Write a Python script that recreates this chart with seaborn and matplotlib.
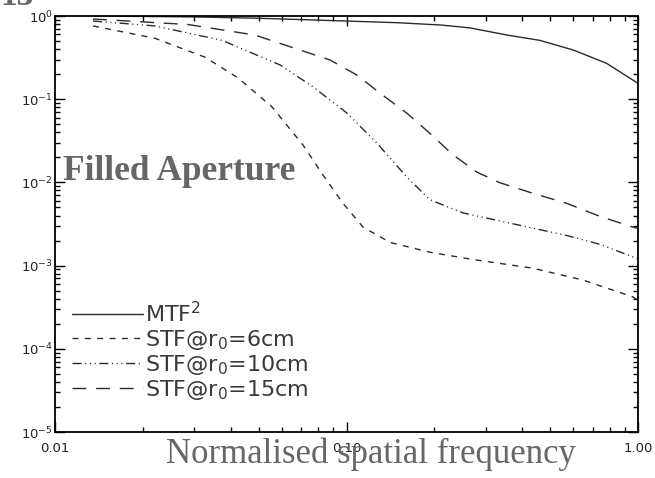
import numpy as np
import pandas as pd
import seaborn as sns
import matplotlib
matplotlib.use("Agg")
import matplotlib.pyplot as plt
from matplotlib.ticker import FixedLocator, FixedFormatter, LogLocator, NullFormatter

# ---- data ----
mtf_x = [0.0137, 0.03, 0.05, 0.1, 0.15, 0.21, 0.265, 0.356, 0.46, 0.6, 0.78, 1.0]
mtf_y = [1.0, 0.975, 0.94, 0.87, 0.83, 0.78, 0.72, 0.59, 0.51, 0.39, 0.27, 0.155]

stf6_x = [0.0135, 0.022, 0.0327, 0.0425, 0.0555, 0.0615, 0.071, 0.083, 0.0973,
          0.114, 0.141, 0.193, 0.265, 0.436, 0.648, 0.962, 1.0]
stf6_y = [0.76, 0.54, 0.32, 0.18, 0.081, 0.052, 0.028, 0.0123, 0.0056,
          0.0029, 0.0019, 0.00145, 0.00120, 0.00093, 0.00067, 0.00042, 0.00038]

stf10_x = [0.0135, 0.022, 0.0374, 0.0592, 0.0767, 0.1004, 0.127, 0.161, 0.193,
           0.251, 0.385, 0.570, 0.741, 0.962, 1.0]
stf10_y = [0.87, 0.76, 0.51, 0.258, 0.141, 0.068, 0.0298, 0.0116, 0.0062,
           0.0043, 0.0031, 0.0023, 0.0018, 0.00127, 0.0012]

stf15_x = [0.0135, 0.0286, 0.0485, 0.0878, 0.1086, 0.130, 0.161, 0.193, 0.232,
           0.280, 0.336, 0.436, 0.570, 0.741, 0.962, 1.0]
stf15_y = [0.92, 0.79, 0.59, 0.296, 0.195, 0.119, 0.068, 0.039, 0.0214,
           0.0133, 0.0099, 0.0074, 0.0056, 0.0039, 0.0029, 0.0028]

series_labels = ["MTF$^2$", "STF@r$_0$=6cm", "STF@r$_0$=10cm", "STF@r$_0$=15cm"]
xtick_values = [0.01, 0.1, 1.0]
xtick_labels = ["0.01", "0.10", "1.00"]
ytick_values = [1e-5, 1e-4, 1e-3, 1e-2, 1e-1, 1e0]

xlabel_text = "Normalised spatial frequency"
annotation_text = "Filled Aperture"
page_text = "13"

# ---- styling ----
sns.set_style("ticks")
plt.rcParams["font.family"] = ["DejaVu Sans"]
plt.rcParams["mathtext.fontset"] = "dejavusans"

fig = plt.figure(figsize=(6.55, 4.78), dpi=100)
ax = fig.add_axes([55 / 655, 46 / 478, 583 / 655, 416 / 478])

line_color = "#2b2b2b"
styles = [
    (mtf_x, mtf_y, "-"),
    (stf6_x, stf6_y, (0, (4.3, 4.6))),
    (stf10_x, stf10_y, (0, (6.5, 2.6, 0.8, 2.6, 0.8, 2.6, 0.8, 2.6))),
    (stf15_x, stf15_y, (0, (10, 7))),
]
for (xs, ys, ls), lab in zip(styles, series_labels):
    df = pd.DataFrame({"x": xs, "y": ys})
    sns.lineplot(data=df, x="x", y="y", ax=ax, color=line_color, linewidth=1.0,
                 linestyle=ls, label=lab, errorbar=None, sort=False)

ax.set_xscale("log")
ax.set_yscale("log")
ax.set_xlim(0.01, 1.0)
ax.set_ylim(1e-5, 1.0)

ax.xaxis.set_major_locator(FixedLocator(xtick_values))
ax.xaxis.set_major_formatter(FixedFormatter(xtick_labels))
ax.xaxis.set_minor_locator(LogLocator(base=10, subs=np.arange(2, 10)))
ax.xaxis.set_minor_formatter(NullFormatter())
ax.yaxis.set_major_locator(FixedLocator(ytick_values))
ax.yaxis.set_minor_locator(LogLocator(base=10, subs=np.arange(2, 10), numticks=20))
ax.yaxis.set_minor_formatter(NullFormatter())

ax.tick_params(axis="both", which="both", direction="in", top=True, right=True,
               color="black", width=1.0)
ax.tick_params(axis="both", which="major", length=7.2)
ax.tick_params(axis="both", which="minor", length=3.6)
ax.tick_params(axis="x", which="major", labelsize=9.5, pad=7, labelcolor="#222222")
ax.tick_params(axis="y", which="major", labelsize=9.5, pad=1.5, labelcolor="#222222")

for sp in ax.spines.values():
    sp.set_linewidth(1.3)
    sp.set_color("black")

ax.set_ylabel("")
ax.set_xlabel(xlabel_text, family="Liberation Serif", fontsize=25, color="#666666")
ax.xaxis.label.set_va("baseline")
ax.xaxis.set_label_coords(0.542, (432 - 463) / 416)

ax.text((63 - 55) / 583, (432 - 180) / 416, annotation_text, transform=ax.transAxes,
        family="Liberation Serif", fontweight="bold", fontsize=25.5, color="#666666",
        va="baseline", ha="left")

fig.text(0.0, 1 - 5 / 478, page_text, family="Liberation Serif", fontweight="bold",
         fontsize=24, color="#666666", va="baseline", ha="left")

leg = ax.legend(loc="upper left", bbox_to_anchor=((72 - 55) / 583, (432 - 301) / 416),
                frameon=False, fontsize=16, handlelength=3.2, handletextpad=0.1,
                labelspacing=0.06, borderpad=0, borderaxespad=0)
for t in leg.get_texts():
    t.set_color("#3a3a3a")

fig.savefig("out.png", dpi=100)
